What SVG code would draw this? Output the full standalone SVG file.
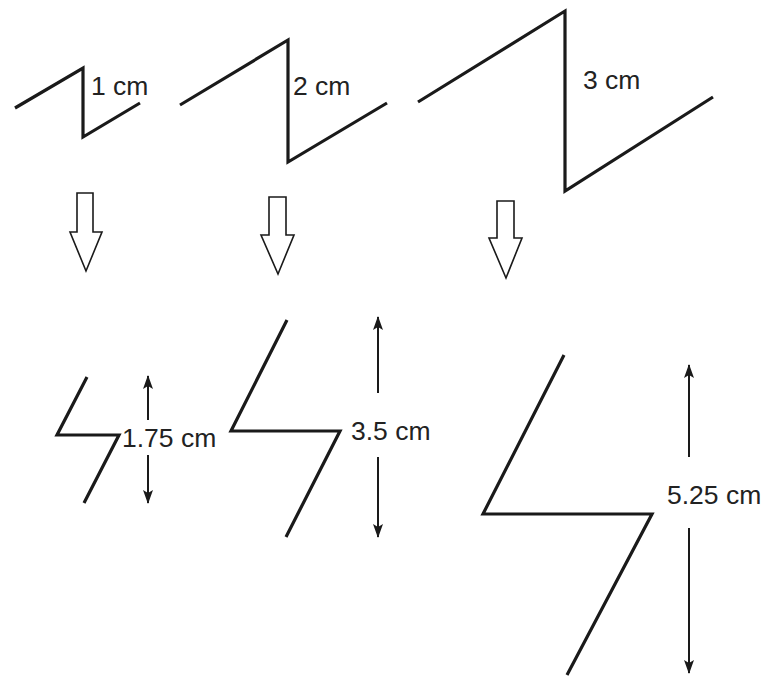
<svg xmlns="http://www.w3.org/2000/svg" width="780" height="678" viewBox="0 0 780 678">
<style>
.z{fill:none;stroke:#1a1a1a;stroke-width:3.2;stroke-linejoin:miter;stroke-linecap:butt}
.h{fill:#fff;stroke:#1a1a1a;stroke-width:1.6;stroke-linejoin:miter}
.d{fill:none;stroke:#1a1a1a;stroke-width:2}
text{font-family:"Liberation Sans",Arial,sans-serif;font-size:26.5px;fill:#222}
</style>
<defs>
<marker id="ah" viewBox="0 0 14 10" refX="13" refY="5" markerWidth="14" markerHeight="10" markerUnits="userSpaceOnUse" orient="auto">
<path d="M0,0 L14,5 L0,10 L3,5 Z" fill="#1a1a1a"/>
</marker>
</defs>
<rect width="780" height="678" fill="#fff"/>
<g id="zig1">
<polyline class="z" points="15,108 83,68 83,137 140,103"/>
<text x="91" y="95">1 cm</text>
</g>
<g id="zig2">
<polyline class="z" points="180,105 288,40 288,162 387,103"/>
<text x="293" y="95">2 cm</text>
</g>
<g id="zig3">
<polyline class="z" points="418,102 565,11 565,191 713,97"/>
<text x="583" y="89">3 cm</text>
</g>
<g id="arrow1">
<polygon class="h" points="77,193 93,193 93,232 102,232 86,271 70,232 77,232"/>
</g>
<g id="arrow2">
<polygon class="h" points="269,197 286,197 286,235 294,235 278,274 261,235 269,235"/>
</g>
<g id="arrow3">
<polygon class="h" points="497,201 514,201 514,238 522,238 506,278 489,238 497,238"/>
</g>
<g id="bolt1">
<polyline class="z" points="87,377 57,435 119,435 84,503"/>
<text x="122" y="447">1.75 cm</text>
</g>
<g id="bolt2">
<polyline class="z" points="287,320 231,431 340,431 286,537"/>
<text x="351" y="440">3.5 cm</text>
</g>
<g id="bolt3">
<polyline class="z" points="564,355 483,514 652,514 567,675"/>
<text x="667" y="504">5.25 cm</text>
</g>
<g id="connectors">
<line class="d" x1="148" y1="420" x2="148" y2="376" marker-end="url(#ah)"/>
<line class="d" x1="148" y1="455" x2="148" y2="503" marker-end="url(#ah)"/>
<line class="d" x1="378" y1="393" x2="378" y2="317" marker-end="url(#ah)"/>
<line class="d" x1="378" y1="457" x2="378" y2="537" marker-end="url(#ah)"/>
<line class="d" x1="689" y1="457" x2="689" y2="365" marker-end="url(#ah)"/>
<line class="d" x1="689" y1="528" x2="689" y2="673" marker-end="url(#ah)"/>
</g>
</svg>
